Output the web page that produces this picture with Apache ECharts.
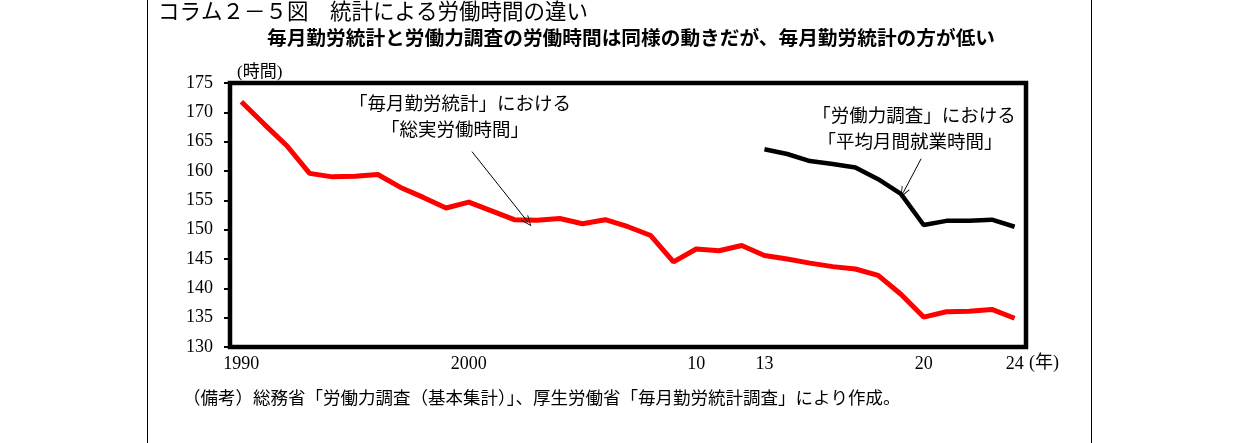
<!DOCTYPE html>
<html>
    <head>
        <meta charset="utf-8">
        <title>コラム2-5図</title>
        <script src="https://cdn.jsdelivr.net/npm/echarts@6/dist/echarts.min.js"></script>
        <style>
            body { margin: 0; background: #fff; }
            #chart { width: 1240px; height: 443px; }
        </style>
    </head>
    <body>
        <div id="chart"></div>
        <script>
            // 年（1990〜2024）
            var years = [1990, 1991, 1992, 1993, 1994, 1995, 1996, 1997, 1998, 1999,
                         2000, 2001, 2002, 2003, 2004, 2005, 2006, 2007, 2008, 2009,
                         2010, 2011, 2012, 2013, 2014, 2015, 2016, 2017, 2018, 2019,
                         2020, 2021, 2022, 2023, 2024];
            // 毎月勤労統計 総実労働時間
            var maikin = [171.8, 168.0, 164.3, 159.6, 159.0, 159.1, 159.4, 157.2, 155.5, 153.7,
                          154.7, 153.2, 151.7, 151.6, 151.9, 151.0, 151.7, 150.5, 149.0, 144.5,
                          146.7, 146.4, 147.3, 145.6, 145.0, 144.3, 143.7, 143.3, 142.2, 139.0,
                          135.1, 136.0, 136.1, 136.4, 134.9];
            // 労働力調査 平均月間就業時間（2013〜）
            var rouryokuYears = [2013, 2014, 2015, 2016, 2017, 2018, 2019, 2020, 2021, 2022, 2023, 2024];
            var rouryoku = [163.7, 162.9, 161.7, 161.2, 160.6, 158.6, 156.1, 150.8, 151.5, 151.5, 151.7, 150.5];

            var tickYears = [1990, 2000, 2010, 2013, 2020, 2024];
            var tickLabels = ['1990', '2000', '10', '13', '20', '24'];

            var serif = '"Liberation Serif", "Noto Sans CJK JP", serif';
            var gothic = '"Noto Sans CJK JP", sans-serif';
            var openV = 'path://M0,10L5,0L10,10L9,10L5,2L1,10Z';

            var redData = years.map(function (y, i) { return [y, maikin[i]]; });
            var blackData = rouryokuYears.map(function (y, i) { return [y, rouryoku[i]]; });

            var option = {
                animation: false,
                backgroundColor: '#fff',
                grid: {
                    left: 230,
                    top: 83,
                    width: 796,
                    height: 264,
                    show: true,
                    borderColor: '#000',
                    borderWidth: 4.5
                },
                xAxis: {
                    type: 'value',
                    min: 1989.5,
                    max: 2024.5,
                    interval: 0.5,
                    axisLine: { show: false },
                    axisTick: { show: false },
                    splitLine: { show: false },
                    axisLabel: {
                        margin: 8,
                        color: '#000',
                        fontFamily: serif,
                        fontSize: 18,
                        formatter: function (v) {
                            var k = tickYears.indexOf(v);
                            return k >= 0 ? tickLabels[k] : '';
                        }
                    }
                },
                yAxis: {
                    type: 'value',
                    min: 130,
                    max: 175,
                    interval: 5,
                    axisLine: { show: false },
                    axisTick: { show: true, length: 6, lineStyle: { color: '#000', width: 2 } },
                    splitLine: { show: false },
                    axisLabel: {
                        margin: 17,
                        color: '#000',
                        fontFamily: serif,
                        fontSize: 18
                    }
                },
                series: [
                    {
                        name: '毎月勤労統計',
                        type: 'line',
                        data: redData,
                        showSymbol: false,
                        lineStyle: { color: '#ff0000', width: 5 },
                        markLine: {
                            silent: true,
                            label: { show: false },
                            lineStyle: { color: '#000', width: 1, type: 'solid' },
                            symbolSize: [9, 11],
                            data: [[
                                { coord: [2000.14, 163.3], symbol: 'none' },
                                { coord: [2002.6, 151.3], symbol: openV }
                            ]]
                        }
                    },
                    {
                        name: '労働力調査',
                        type: 'line',
                        data: blackData,
                        showSymbol: false,
                        lineStyle: { color: '#000', width: 4.5 },
                        markLine: {
                            silent: true,
                            label: { show: false },
                            lineStyle: { color: '#000', width: 1, type: 'solid' },
                            symbolSize: [9, 11],
                            data: [[
                                { coord: [2019.89, 162.1], symbol: 'none' },
                                { coord: [2019.1, 156.3], symbol: openV }
                            ]]
                        }
                    }
                ],
                graphic: [
                    { type: 'line', shape: { x1: 147.5, y1: 0, x2: 147.5, y2: 443 }, style: { stroke: '#000', lineWidth: 1 } },
                    { type: 'line', shape: { x1: 1091.5, y1: 0, x2: 1091.5, y2: 443 }, style: { stroke: '#000', lineWidth: 1 } },
                    { type: 'text', left: 158, top: 0, style: { text: 'コラム２－５図　統計による労働時間の違い', font: '21.5px ' + gothic, fill: '#000' } },
                    { type: 'text', left: 267, top: 28, style: { text: '毎月勤労統計と労働力調査の労働時間は同様の動きだが、毎月勤労統計の方が低い', font: 'bold 19.7px ' + gothic, fill: '#000' } },
                    { type: 'text', x: 237, y: 73, style: { text: '(時間)', font: '17px ' + serif, fill: '#000', verticalAlign: 'middle' } },
                    { type: 'text', x: 1029, y: 363, style: { text: '(年)', font: '18px ' + serif, fill: '#000', verticalAlign: 'middle' } },
                    { type: 'text', x: 460, y: 105, style: { text: '「毎月勤労統計」における', font: '18.5px ' + serif, fill: '#000', align: 'center', verticalAlign: 'middle' } },
                    { type: 'text', x: 455, y: 131, style: { text: '「総実労働時間」', font: '18.5px ' + serif, fill: '#000', align: 'center', verticalAlign: 'middle' } },
                    { type: 'text', x: 914, y: 117, style: { text: '「労働力調査」における', font: '18.5px ' + serif, fill: '#000', align: 'center', verticalAlign: 'middle' } },
                    { type: 'text', x: 910, y: 143, style: { text: '「平均月間就業時間」', font: '18.5px ' + serif, fill: '#000', align: 'center', verticalAlign: 'middle' } },
                    { type: 'text', x: 183, y: 399, style: { text: '（備考）総務省「労働力調査（基本集計）」、厚生労働省「毎月勤労統計調査」により作成。', font: '17.5px ' + serif, fill: '#000', verticalAlign: 'middle' } }
                ]
            };

            var chart = echarts.init(document.getElementById('chart'));
            chart.setOption(option);
        </script>
    </body>
</html>
